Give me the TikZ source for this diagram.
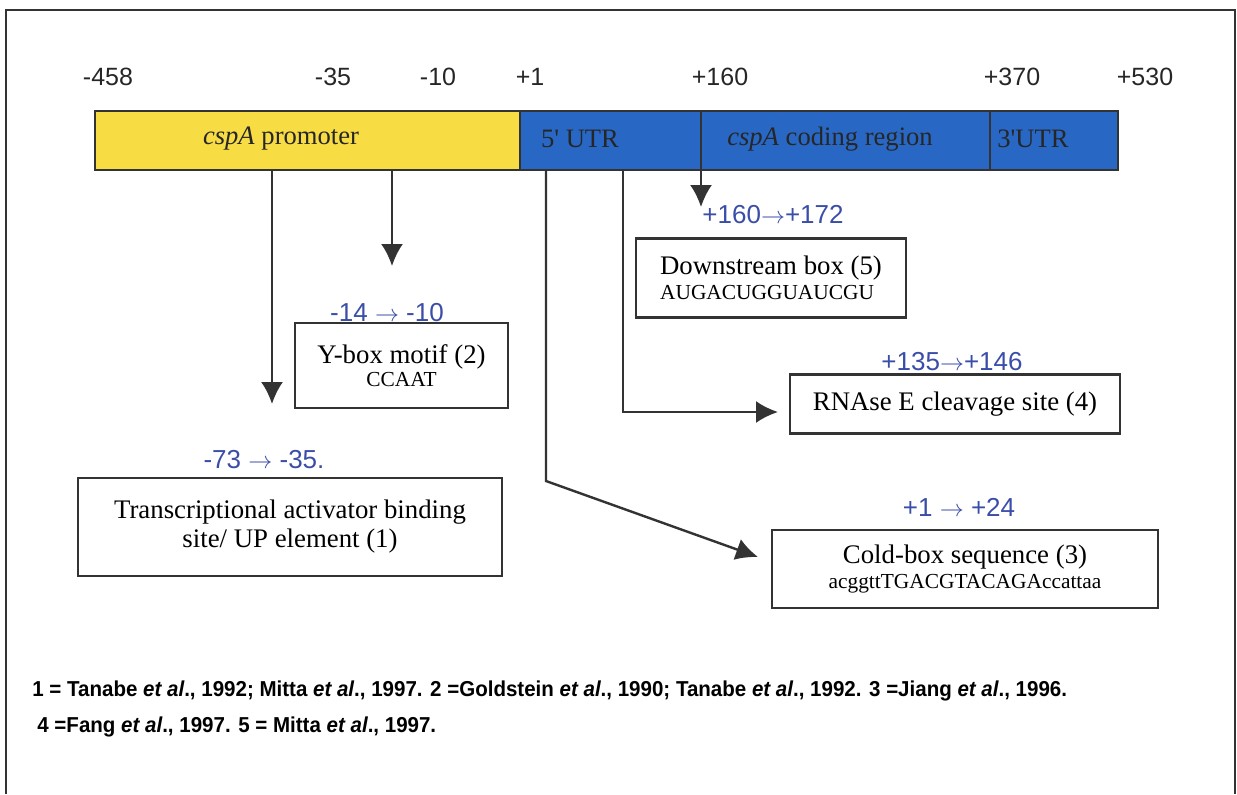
\documentclass[tikz,border=0pt]{standalone}
\usepackage{fontspec}
\setmainfont{Liberation Serif}
\setsansfont{Liberation Sans}
\newfontfamily\notefont[FakeStretch=0.95]{Liberation Sans}
\usetikzlibrary{arrows.meta,positioning}
\definecolor{promyellow}{HTML}{F8DC44}
\definecolor{geneblue}{HTML}{2868C4}
\definecolor{rangeblue}{HTML}{3A4DA8}
\definecolor{darkgray}{HTML}{333333}
\tikzset{
  segment/.style={draw=darkgray,line width=1pt},
  pointer/.style={-{Latex[length=11pt,width=11pt]},line width=1.2pt,darkgray},
  sitebox/.style={draw=darkgray,line width=1.2pt,align=center,inner sep=2pt,font=\fontsize{13.4}{14.5}\selectfont},
  poslabel/.style={font=\sffamily\fontsize{12.5}{14}\selectfont,text=black!85},
  rangelabel/.style={font=\sffamily\fontsize{13}{15}\selectfont,text=rangeblue},
  bartext/.style={font=\fontsize{13.3}{15}\selectfont,text=black!85},
  footnote/.style={anchor=west,font=\notefont\bfseries\fontsize{10.8}{12}\selectfont,inner sep=0pt}
}
\newcommand{\seqtext}[1]{{\fontsize{10.7}{12}\selectfont #1}}

\begin{document}
\begin{tikzpicture}[x=0.5pt,y=-0.5pt]
  \useasboundingbox (0,0) rectangle (1237,794);
  \draw[darkgray,line width=0.8pt] (6,794) -- (6,10) -- (1235,10) -- (1235,794);

  \fill[promyellow] (95,111) rectangle (520,170);
  \fill[geneblue] (520,111) rectangle (1118,170);
  \draw[segment] (95,111) rectangle (1118,170) (520,111) -- (520,170) (701,111) -- (701,170) (990,111) -- (990,170);

  \node[poslabel] (p458) at (108,77) {-458};
  \node[poslabel] (p35) at (333,77) {-35};
  \node[poslabel] (p10) at (438,77) {-10};
  \node[poslabel] (p1) at (530,77) {+1};
  \node[poslabel] (p160) at (720,77) {+160};
  \node[poslabel] (p370) at (1012,77) {+370};
  \node[poslabel] (p530) at (1145,77) {+530};

  \node[bartext] (promoter) at (281,139) {\textit{cspA} promoter};
  \node[bartext] (utr5) at (580,139) {5\textquotesingle{} UTR};
  \node[bartext] (coding) at (830,139) {\textit{cspA} coding region};
  \node[bartext] (utr3) at (1033,139) {3\textquotesingle{}UTR};

  \node[sitebox,minimum width=106.5pt,minimum height=42.5pt] (ybox) at (401.5,365.5) {Y-box motif (2)\\[-3pt]\seqtext{CCAAT}};
  \node[sitebox,minimum width=212pt,minimum height=49pt] (upbox) at (290,527) {Transcriptional activator binding\\site/ UP element (1)};
  \node[sitebox,minimum width=135pt,minimum height=39.5pt,align=left] (dsbox) at (771,278) {Downstream box (5)\\[-2pt]\seqtext{AUGACUGGUAUCGU}};
  \node[sitebox,minimum width=165pt,minimum height=29.5pt] (rnbox) at (955,404) {RNAse E cleavage site (4)};
  \node[sitebox,minimum width=193pt,minimum height=39pt] (cbbox) at (965,569) {Cold-box sequence (3)\\[-2pt]\seqtext{acggttTGACGTACAGAccattaa}};

  \node[rangelabel] (r1) at (264,460) {-73 $\rightarrow$ -35.};
  \node[rangelabel] (r2) at (387,313) {-14 $\rightarrow$ -10};
  \node[rangelabel] (r3) at (959,507) {+1 $\rightarrow$ +24};
  \node[rangelabel] (r4) at (952,362) {+135$\rightarrow$+146};
  \node[rangelabel] (r5) at (773,215) {+160$\rightarrow$+172};

  \coordinate (tap1) at (272,170);
  \coordinate (tip1) at (272,404);
  \coordinate (tap2) at (392,170);
  \coordinate (tip2) at (392,266);
  \coordinate (tap3) at (546,170);
  \coordinate (bend3) at (546,481);
  \coordinate (tip3) at (758,557);
  \coordinate (tap4) at (623,170);
  \coordinate (tip4) at (778,412);
  \coordinate (tap5) at (701,170);
  \coordinate (tip5) at (701,207);
  \draw[pointer] (tap1) -- (tip1);
  \draw[pointer] (tap2) -- (tip2);
  \draw[pointer] (tap3) -- (bend3) -- (tip3);
  \draw[pointer] (tap4) |- (tip4);
  \draw[pointer] (tap5) -- (tip5);

  \node[footnote] (refs1) at (32,691) {1 = Tanabe \textit{et al}., 1992; Mitta \textit{et al}., 1997. 2 =Goldstein \textit{et al}., 1990; Tanabe \textit{et al}., 1992. 3 =Jiang \textit{et al}., 1996.};
  \node[footnote] (refs2) at (37,727) {4 =Fang \textit{et al}., 1997. 5 = Mitta \textit{et al}., 1997.};
\end{tikzpicture}
\end{document}
